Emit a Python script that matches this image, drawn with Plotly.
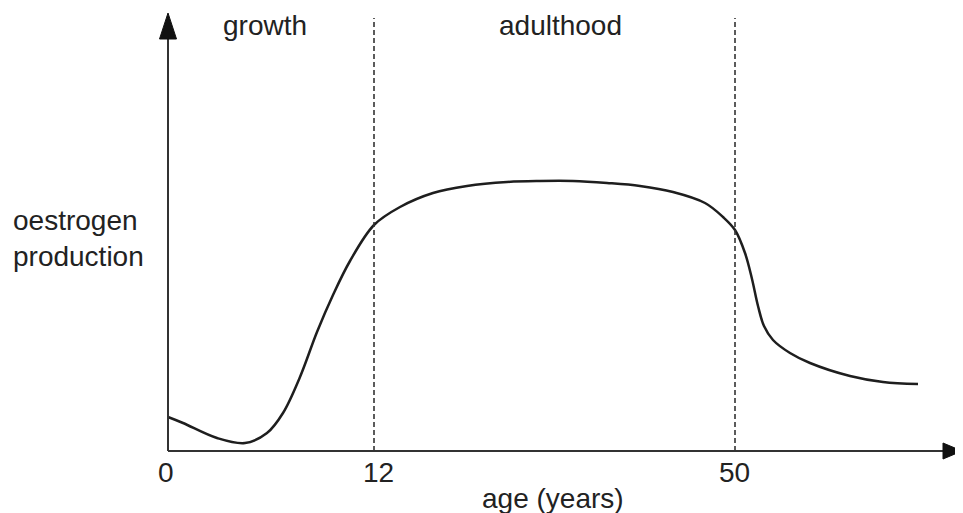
import plotly.graph_objects as go

# Schematic chart: x in schematic position units (axis origin = 0), y = oestrogen production (schematic units)
curve_x = [0, 15, 49, 77, 99, 115, 132, 149, 165, 182, 206, 232, 265, 299, 339, 372, 405, 439,
           472, 505, 537, 555, 567, 577, 584, 590, 596, 605, 622, 642, 682, 715, 750]
curve_y = [34, 28, 13, 8, 18, 38, 74, 119, 156, 190, 226, 244, 258, 265, 269, 270, 270, 268,
           265, 259, 248, 234, 221, 198, 172, 145, 125, 111, 98, 88, 75, 69, 67]

tick_pos = [0, 206, 567]
tick_labels = ["0", "12", "50"]
phase_labels = ["growth", "adulthood"]
phase_label_x = [97, 392]

FONT = "Arial"
TXT = "#222222"
AX = "#333333"
FS = 28

fig = go.Figure()
fig.add_trace(go.Scatter(x=curve_x, y=curve_y, mode="lines",
                         line=dict(color="#1e1e1e", width=2.5, shape="spline", smoothing=1.0),
                         hoverinfo="skip", showlegend=False))

shapes = []
# axes
shapes.append(dict(type="line", x0=0, x1=780, y0=0, y1=0, xref="x", yref="y", line=dict(color=AX, width=2)))
shapes.append(dict(type="line", x0=0, x1=0, y0=0, y1=418, xref="x", yref="y", line=dict(color=AX, width=2)))
# arrowheads
shapes.append(dict(type="path", path="M 775 8 L 794 0 L 775 -8 Z", xref="x", yref="y",
                   fillcolor="#111111", line=dict(color="#111111", width=1)))
shapes.append(dict(type="path", path="M -8.5 412 L 0 438 L 8.5 412 Z", xref="x", yref="y",
                   fillcolor="#111111", line=dict(color="#111111", width=1)))
# dashed phase boundaries
for xp in tick_pos[1:]:
    shapes.append(dict(type="line", x0=xp, x1=xp, y0=0, y1=433, xref="x", yref="y",
                       line=dict(color=AX, width=1.6, dash="5px,3px")))

annotations = []
for lab, xp in zip(phase_labels, phase_label_x):
    annotations.append(dict(x=xp, y=426, xref="x", yref="y", text=lab, showarrow=False,
                            font=dict(family=FONT, size=FS, color=TXT), xanchor="center", yanchor="middle"))
annotations.append(dict(x=-157, y=213, xref="x", yref="y", text="oestrogen<br>production", showarrow=False,
                        align="left", font=dict(family=FONT, size=FS, color=TXT),
                        xanchor="left", yanchor="middle"))
annotations.append(dict(x=385, y=-47, xref="x", yref="y", text="age (years)", showarrow=False,
                        font=dict(family=FONT, size=FS, color=TXT), xanchor="center", yanchor="middle"))
tick_label_x = [-2, 210, 566]
for lab, xp in zip(tick_labels, tick_label_x):
    annotations.append(dict(x=xp, y=-21, xref="x", yref="y", text=lab, showarrow=False,
                            font=dict(family=FONT, size=FS, color=TXT), xanchor="center", yanchor="middle"))

fig.update_layout(
    width=955, height=505,
    margin=dict(l=0, r=0, t=0, b=0, pad=0),
    paper_bgcolor="white", plot_bgcolor="white",
    font=dict(family=FONT, color=TXT),
    xaxis=dict(range=[-160, 795], visible=False, fixedrange=True),
    yaxis=dict(range=[-62, 443], visible=False, fixedrange=True),
    shapes=shapes, annotations=annotations,
    showlegend=False,
)
fig.write_html("out.html")
